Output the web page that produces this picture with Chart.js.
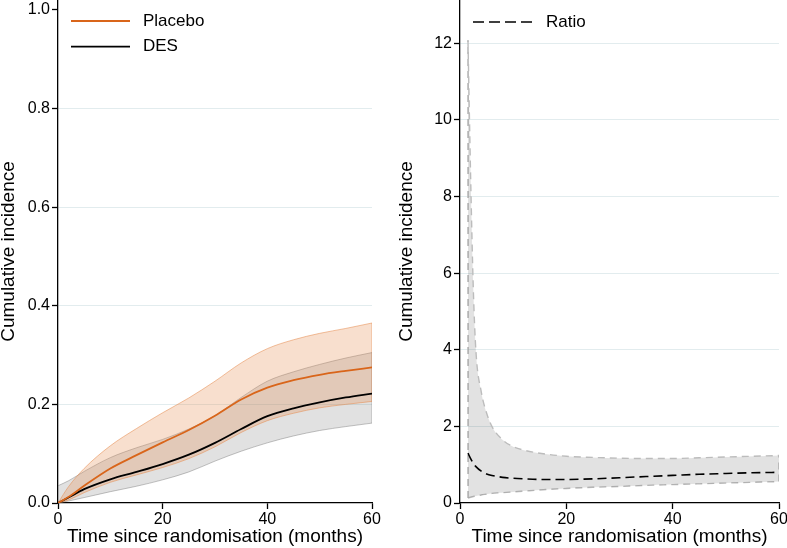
<!DOCTYPE html>
<html>
<head>
<meta charset="utf-8">
<script src="https://cdn.jsdelivr.net/npm/chart.js@4/dist/chart.umd.min.js"></script>
<style>
    body { margin: 0; background: #fff; }
    #wrap { position: relative; width: 787px; height: 548px; }
    #left { position: absolute; left: 0; top: 0; }
    #right { position: absolute; left: 398px; top: 0; }
</style>
</head>
<body>
<div id="wrap">
    <canvas id="left" width="398" height="548"></canvas>
    <canvas id="right" width="389" height="548"></canvas>
</div>
<script>
/* ==================== DATA ==================== */
const months = [0, 2, 5, 10, 15, 20, 25, 30, 35, 40, 45, 50, 55, 60];
const placebo   = [0, 0.012, 0.035, 0.070, 0.097, 0.123, 0.148, 0.177, 0.210, 0.234, 0.249, 0.260, 0.268, 0.275];
const placeboLo = [0, 0.006, 0.021, 0.042, 0.057, 0.072, 0.090, 0.114, 0.143, 0.167, 0.182, 0.193, 0.200, 0.206];
const placeboHi = [0, 0.033, 0.070, 0.116, 0.151, 0.183, 0.213, 0.247, 0.284, 0.313, 0.331, 0.344, 0.354, 0.365];
const des   = [0, 0.011, 0.028, 0.048, 0.063, 0.079, 0.098, 0.122, 0.150, 0.176, 0.192, 0.204, 0.214, 0.222];
const desLo = [0, 0.004, 0.011, 0.023, 0.034, 0.047, 0.063, 0.085, 0.105, 0.122, 0.136, 0.147, 0.155, 0.162];
const desHi = [0.035, 0.045, 0.064, 0.092, 0.112, 0.129, 0.150, 0.177, 0.214, 0.247, 0.266, 0.281, 0.294, 0.305];

const ratioMonths = [1.5, 2, 2.5, 3, 4, 5, 6, 8, 10, 12, 15, 20, 25, 30, 35, 40, 45, 50, 55, 60];
const ratio   = [1.30, 1.16, 1.04, 0.95, 0.83, 0.76, 0.72, 0.67, 0.645, 0.63, 0.615, 0.615, 0.63, 0.66, 0.69, 0.72, 0.75, 0.77, 0.79, 0.80];
const ratioLo = [0.13, 0.15, 0.17, 0.18, 0.21, 0.23, 0.25, 0.27, 0.29, 0.31, 0.34, 0.38, 0.41, 0.43, 0.46, 0.48, 0.50, 0.52, 0.54, 0.56];
const ratioHi = [12.08, 8.5, 5.6, 3.95, 2.9, 2.35, 2.0, 1.65, 1.47, 1.38, 1.30, 1.22, 1.19, 1.17, 1.16, 1.16, 1.18, 1.20, 1.22, 1.24];

const xTicks = [0, 20, 40, 60];
const leftYTicks = [0, 0.2, 0.4, 0.6, 0.8, 1.0];
const rightYTicks = [0, 2, 4, 6, 8, 10, 12];

/* ==================== STYLE ==================== */
const FONT = '"Liberation Sans", Arial, Helvetica, sans-serif';
Chart.defaults.font.family = FONT;
Chart.defaults.color = '#000';

const ORANGE = '#d9651a';
const GRID = '#e2ecee';

const pts = (xs, ys) => xs.map((x, i) => ({ x: x, y: ys[i] }));
const edge = (x, lo, hi) => [{ x: x, y: lo }, { x: x, y: hi }];

function insideLegend(cfg) {
    return {
        id: 'insideLegend',
        afterDraw(chart) {
            const ctx = chart.ctx;
            ctx.save();
            ctx.font = '17px ' + FONT;
            ctx.textBaseline = 'middle';
            cfg.items.forEach((it, i) => {
                const y = cfg.y + i * cfg.gap;
                ctx.strokeStyle = it.color;
                ctx.lineWidth = it.width;
                ctx.setLineDash(it.dash || []);
                ctx.beginPath();
                ctx.moveTo(cfg.x, y);
                ctx.lineTo(cfg.x + cfg.len, y);
                ctx.stroke();
                ctx.setLineDash([]);
                ctx.fillStyle = '#000';
                ctx.fillText(it.label, cfg.x + cfg.len + 13, y);
            });
            ctx.restore();
        }
    };
}

// no edge padding: the plot area runs to the canvas top like the reference
function noPad(s) {
    s.paddingTop = 0;
    s.paddingBottom = 0;
    s.paddingLeft = 0;
    s.paddingRight = 0;
}

function scales(yMax, yTicks, yWidth, gridMax, fmt) {
    return {
        x: {
            type: 'linear', min: 0, max: 60,
            afterFit: (s) => { s.height = 45; noPad(s); },
            afterBuildTicks: (s) => { s.ticks = xTicks.map((v) => ({ value: v })); },
            border: { color: '#000', width: 1.3 },
            grid: { drawOnChartArea: false, tickColor: '#000', tickLength: 6, tickWidth: 1.3 },
            ticks: { font: { size: 16 }, padding: 1, maxRotation: 0, autoSkip: false },
            title: { display: true, text: 'Time since randomisation (months)', font: { size: 19 }, padding: { top: 0, bottom: 0 } }
        },
        y: {
            type: 'linear', min: 0, max: yMax,
            afterFit: (s) => { s.width = yWidth; noPad(s); },
            afterBuildTicks: (s) => { s.ticks = yTicks.map((v) => ({ value: v })); },
            border: { color: '#000', width: 1.3 },
            grid: {
                color: (c) => (c.tick && c.tick.value > 0 && c.tick.value <= gridMax) ? GRID : 'rgba(0,0,0,0)',
                tickColor: '#000', tickLength: 6, tickWidth: 1.3, lineWidth: 1
            },
            ticks: { font: { size: 16 }, padding: 2, autoSkip: false, callback: fmt },
            title: { display: true, text: 'Cumulative incidence', font: { size: 19, lineHeight: 0.9 }, padding: 0 }
        }
    };
}

/* ==================== LEFT PANEL ==================== */
const bandOrange = 'rgba(230,140,80,0.28)';
const bandOrangeEdge = 'rgba(230,140,80,0.55)';
const bandGray = 'rgba(120,120,120,0.22)';
const bandGrayEdge = 'rgba(120,120,120,0.45)';
const n = months.length - 1;

new Chart(document.getElementById('left'), {
    type: 'line',
    data: {
        datasets: [
            { label: 'Placebo', data: pts(months, placebo), borderColor: ORANGE, borderWidth: 1.8, pointRadius: 0, cubicInterpolationMode: 'monotone', fill: false },
            { label: 'DES', data: pts(months, des), borderColor: '#000', borderWidth: 1.8, pointRadius: 0, cubicInterpolationMode: 'monotone', fill: false },
            { data: pts(months, placeboHi), borderColor: bandOrangeEdge, borderWidth: 1, backgroundColor: bandOrange, pointRadius: 0, cubicInterpolationMode: 'monotone', fill: '+1' },
            { data: pts(months, placeboLo), borderColor: bandOrangeEdge, borderWidth: 1, pointRadius: 0, cubicInterpolationMode: 'monotone', fill: false },
            { data: pts(months, desHi), borderColor: bandGrayEdge, borderWidth: 1, backgroundColor: bandGray, pointRadius: 0, cubicInterpolationMode: 'monotone', fill: '+1' },
            { data: pts(months, desLo), borderColor: bandGrayEdge, borderWidth: 1, pointRadius: 0, cubicInterpolationMode: 'monotone', fill: false },
            { data: edge(months[n], placeboLo[n], placeboHi[n]), borderColor: bandOrangeEdge, borderWidth: 1, pointRadius: 0, tension: 0, fill: false },
            { data: edge(months[n], desLo[n], desHi[n]), borderColor: bandGrayEdge, borderWidth: 1, pointRadius: 0, tension: 0, fill: false }
        ]
    },
    options: {
        responsive: false,
        animation: false,
        devicePixelRatio: 1,
        layout: { padding: { left: 0, right: 26, top: 0, bottom: 0 } },
        plugins: { legend: { display: false }, tooltip: { enabled: false } },
        scales: scales(1.02, leftYTicks, 58, 0.9, (v) => Number(v).toFixed(1))
    },
    plugins: [insideLegend({
        x: 71, y: 21, gap: 25.7, len: 59,
        items: [
            { label: 'Placebo', color: ORANGE, width: 1.8 },
            { label: 'DES', color: '#000', width: 1.8 }
        ]
    })]
});

/* ==================== RIGHT PANEL ==================== */
const ratioBand = 'rgba(0,0,0,0.115)';
const ratioEdge = '#bcbcbc';
const last = ratioMonths.length - 1;

new Chart(document.getElementById('right'), {
    type: 'line',
    data: {
        datasets: [
            { label: 'Ratio', data: pts(ratioMonths, ratio), borderColor: '#000', borderWidth: 1.6, borderDash: [9, 5], pointRadius: 0, cubicInterpolationMode: 'monotone', fill: false },
            { data: pts(ratioMonths, ratioHi), borderColor: ratioEdge, borderWidth: 1.4, borderDash: [7, 5], backgroundColor: ratioBand, pointRadius: 0, cubicInterpolationMode: 'monotone', fill: '+1' },
            { data: pts(ratioMonths, ratioLo), borderColor: ratioEdge, borderWidth: 1.4, borderDash: [7, 5], pointRadius: 0, cubicInterpolationMode: 'monotone', fill: false },
            { data: edge(ratioMonths[0], ratioLo[0], ratioHi[0]), borderColor: ratioEdge, borderWidth: 1.6, borderDash: [7, 5], pointRadius: 0, tension: 0, fill: false },
            { data: edge(ratioMonths[last], ratioLo[last], ratioHi[last]), borderColor: ratioEdge, borderWidth: 1.4, borderDash: [7, 5], pointRadius: 0, tension: 0, fill: false }
        ]
    },
    options: {
        responsive: false,
        animation: false,
        devicePixelRatio: 1,
        layout: { padding: { left: 0, right: 8, top: 0, bottom: 0 } },
        plugins: { legend: { display: false }, tooltip: { enabled: false } },
        scales: scales(13.13, rightYTicks, 62, 13, (v) => String(v))
    },
    plugins: [insideLegend({
        x: 75, y: 22, gap: 0, len: 60,
        items: [
            { label: 'Ratio', color: '#000', width: 1.6, dash: [11, 5] }
        ]
    })]
});
</script>
</body>
</html>
